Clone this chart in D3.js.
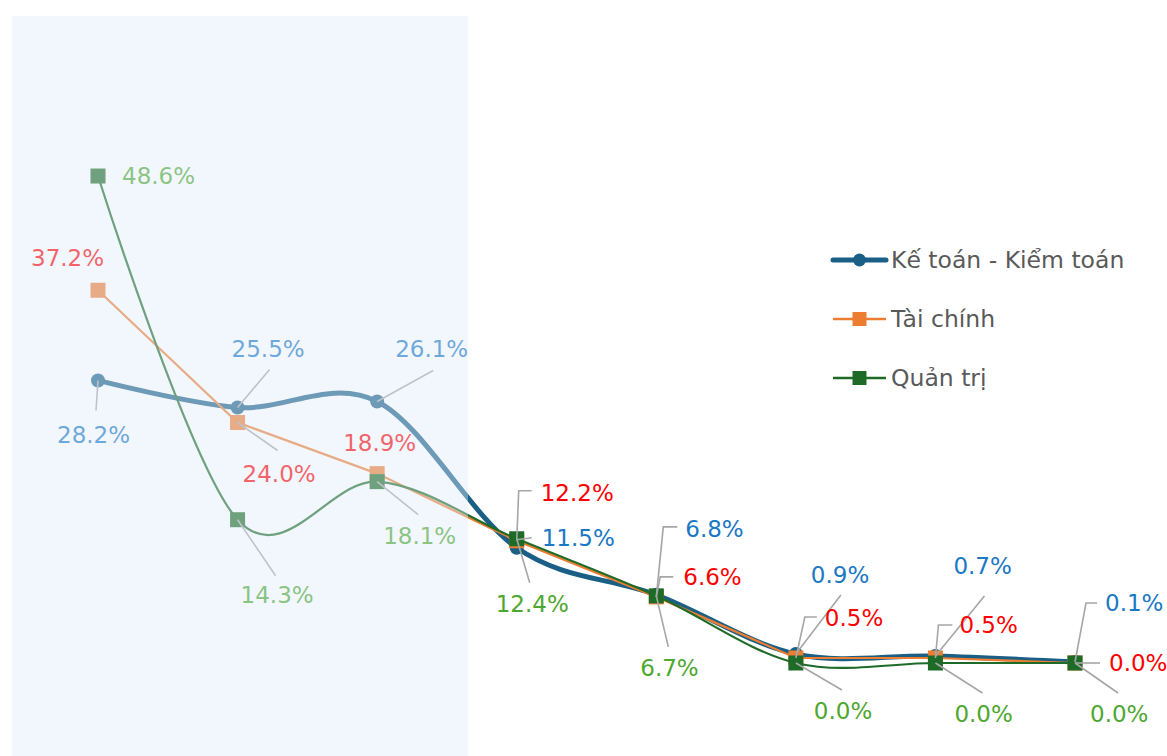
<!DOCTYPE html>
<html lang="vi">
<head>
  <meta charset="UTF-8">
  <title>Chart</title>
  <style>
    body, html {
      margin: 0;
      padding: 0;
      background-color: white;
    }
    text {
      font-family: "DejaVu Sans", sans-serif;
    }
  </style>
</head>
<body>
  <svg id="svg" width="1167" height="756"></svg>
  <script src="https://d3js.org/d3.v7.min.js"></script>
  <script>
    // values (%), one per group along x
    const categories = ['1', '2', '3', '4', '5', '6', '7', '8']
    const keToan = [28.2, 25.5, 26.1, 11.5, 6.8, 0.9, 0.7, 0.1]
    const taiChinh = [37.2, 24.0, 18.9, 12.2, 6.6, 0.5, 0.5, 0.0]
    const quanTri = [48.6, 14.3, 18.1, 12.4, 6.7, 0.0, 0.0, 0.0]
    const seriesNames = ['Kế toán - Kiểm toán', 'Tài chính', 'Quản trị']

    // label placement: [dx, dy] of text start from the point, then leader line points
    const blueLabels = [
      [[-41, 55], [[0, 0], [-2, 30]]],
      [[-6, -58], [[0, 0], [32, -38]]],
      [[18, -52], [[0, 0], [56, -31]]],
      [[25, -10], [[0, -8], [15, -10]]],
      [[29, -66], [[0, 2], [7, -68], [21, -68]]],
      [[15, -79], [[0, 0], [45, -59]]],
      [[18, -90], [[0, 0], [49, -60]]],
      [[30, -59], [[0, 0], [11, -59], [22, -59]]]
    ]
    const redLabels = [
      [[-67, -32], null],
      [[5, 51], [[0, 0], [40, 28]]],
      [[-34, -31], null],
      [[24, -48], [[0, 0], [2, -50], [15, -50]]],
      [[27, -20], [[0, 0], [4, -20], [17, -20]]],
      [[29, -40], [[0, 0], [9, -41], [21, -41]]],
      [[24, -33], [[0, 0], [3, -33], [17, -33]]],
      [[34, 0], [[0, 0], [25, 0]]]
    ]
    const greenLabels = [
      [[24, 0], null],
      [[3, 75], [[0, 0], [38, 56]]],
      [[6, 54], [[0, 0], [41, 33]]],
      [[-21, 65], [[0, 0], [13, 44]]],
      [[-16, 72], [[0, 0], [12, 51]]],
      [[18, 48], [[0, 0], [46, 27]]],
      [[19, 51], [[0, 0], [47, 30]]],
      [[15, 51], [[0, 0], [43, 30]]]
    ]

    const svg = d3.select('#svg')

    const xScale = d3.scalePoint()
      .domain(categories)
      .range([98, 1075])
    const yScale = d3.scaleLinear()
      .domain([0, 50])
      .range([663, 162])

    const series = [
      { name: seriesNames[0], values: keToan, color: '#1a5f85', width: 5, marker: 'circle',
        curve: d3.curveCardinal.tension(0), labelColor: '#1a78c4', labels: blueLabels },
      { name: seriesNames[1], values: taiChinh, color: '#ed7d31', width: 2.2, marker: 'square',
        curve: d3.curveLinear, labelColor: '#ff0000', labels: redLabels },
      { name: seriesNames[2], values: quanTri, color: '#1e6b27', width: 2.2, marker: 'square',
        curve: d3.curveCardinal.tension(0), labelColor: '#4ea72e', labels: greenLabels }
    ]

    const plot = svg.append('g')

    series.forEach(s => {
      const line = d3.line()
        .x((d, i) => xScale(categories[i]))
        .y(d => yScale(d))
        .curve(s.curve)
      plot.append('path')
        .datum(s.values)
        .attr('d', line)
        .attr('fill', 'none')
        .attr('stroke', s.color)
        .attr('stroke-width', s.width)
        .attr('stroke-linecap', 'round')

      const m = plot.append('g')
      if (s.marker === 'circle') {
        m.selectAll('circle')
          .data(s.values)
          .enter()
          .append('circle')
          .attr('cx', (d, i) => xScale(categories[i]))
          .attr('cy', d => yScale(d))
          .attr('r', 7)
          .attr('fill', s.color)
      } else {
        m.selectAll('rect')
          .data(s.values)
          .enter()
          .append('rect')
          .attr('x', (d, i) => xScale(categories[i]) - 7.5)
          .attr('y', d => yScale(d) - 7.5)
          .attr('width', 15)
          .attr('height', 15)
          .attr('fill', s.color)
      }
    })

    // leader lines, then labels
    const leader = d3.line()
    series.forEach(s => {
      s.values.forEach((v, i) => {
        const px = xScale(categories[i])
        const py = yScale(v)
        const lab = s.labels[i]
        if (lab[1]) {
          plot.append('path')
            .attr('d', leader(lab[1].map(p => [px + p[0], py + p[1]])))
            .attr('fill', 'none')
            .attr('stroke', '#a6a6a6')
            .attr('stroke-width', 1.6)
        }
        plot.append('text')
          .attr('x', px + lab[0][0])
          .attr('y', py + lab[0][1])
          .attr('dominant-baseline', 'central')
          .style('font-size', '23px')
          .attr('fill', s.labelColor)
          .text(v.toFixed(1) + '%')
      })
    })

    // pale highlight band over the first groups
    svg.append('rect')
      .attr('x', 12)
      .attr('y', 16)
      .attr('width', 456)
      .attr('height', 740)
      .attr('fill', 'rgb(225, 236, 250)')
      .attr('opacity', 0.42)

    // legend
    const legend = svg.append('g')
      .selectAll('g')
      .data(series)
      .enter()
      .append('g')
      .attr('transform', (d, i) => `translate(833, ${260 + i * 59})`)
    legend.append('line')
      .attr('x1', 0)
      .attr('x2', 53)
      .attr('stroke', d => d.color)
      .attr('stroke-width', d => d.marker === 'circle' ? 5 : 2.5)
      .attr('stroke-linecap', d => d.marker === 'circle' ? 'round' : 'butt')
    legend.filter(d => d.marker === 'circle')
      .append('circle')
      .attr('cx', 26.5)
      .attr('r', 6.5)
      .attr('fill', d => d.color)
    legend.filter(d => d.marker === 'square')
      .append('rect')
      .attr('x', 19.5)
      .attr('y', -7)
      .attr('width', 14)
      .attr('height', 14)
      .attr('fill', d => d.color)
    legend.append('text')
      .attr('x', 58)
      .attr('dominant-baseline', 'central')
      .style('font-size', '23.5px')
      .attr('fill', '#595959')
      .text(d => d.name)
  </script>
</body>
</html>
